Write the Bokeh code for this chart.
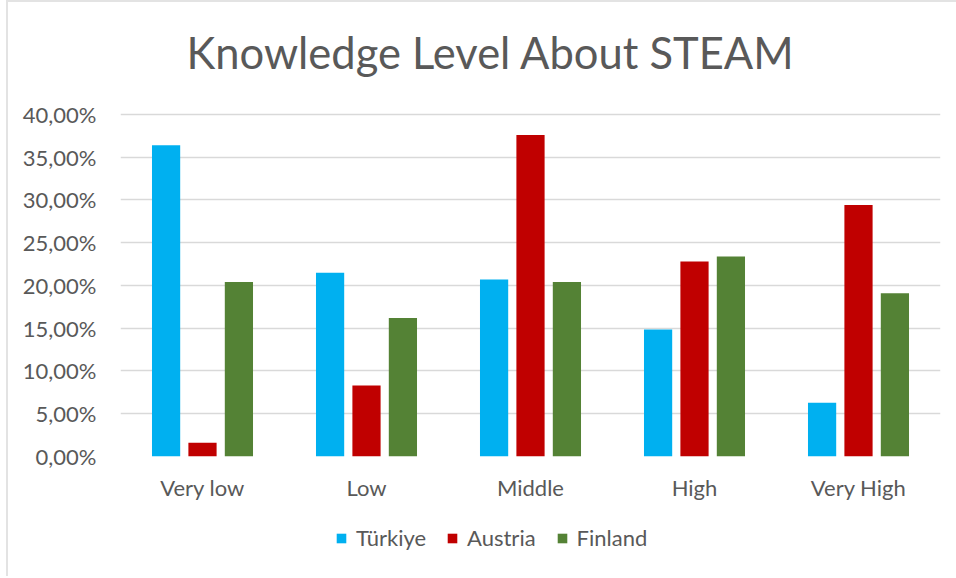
from bokeh.plotting import figure
from bokeh.layouts import column
from bokeh.models import ColumnDataSource, FactorRange, CustomJSTickFormatter, Legend, LegendItem, FixedTicker, Range1d
from bokeh.transform import dodge
from bokeh.embed import file_html
from bokeh.resources import INLINE

categories = ["Very low", "Low", "Middle", "High", "Very High"]
turkiye = [36.4, 21.5, 20.7, 14.85, 6.3]
austria = [1.6, 8.3, 37.6, 22.8, 29.4]
finland = [20.4, 16.2, 20.4, 23.4, 19.1]
series_names = ["Türkiye", "Austria", "Finland"]
colors = ["#00B0F0", "#C00000", "#548235"]
y_ticks = [0, 5, 10, 15, 20, 25, 30, 35, 40]

source = ColumnDataSource(data=dict(cat=categories, t=turkiye, a=austria, f=finland))

FONT = "Lato"
TXT = "#595959"

p = figure(x_range=FactorRange(*categories), y_range=Range1d(0, 41.87),
           width=948, height=518, output_backend="svg", toolbar_location=None,
           min_border_left=112, min_border_right=16, min_border_top=0, min_border_bottom=64)

p.title.text = "Knowledge Level About STEAM"
p.title.align = "left"
p.title.offset = 66
p.title.text_font = FONT
p.title.text_font_style = "normal"
p.title.text_font_size = "43.5px"
p.title.text_color = TXT
p.title.standoff = 42

for key, off, col in zip(["t", "a", "f"], [-0.222, 0.0, 0.222], colors):
    p.vbar(x=dodge("cat", off, range=p.x_range), top=key, width=0.172, bottom=0,
           source=source, fill_color=col, line_color=None)

p.xgrid.grid_line_color = None
p.ygrid.grid_line_color = "#D9D9D9"
p.ygrid.grid_line_width = 1.5
p.outline_line_color = None

p.yaxis.ticker = FixedTicker(ticks=y_ticks)
p.yaxis.formatter = CustomJSTickFormatter(code="return tick.toFixed(2).replace('.', ',') + '%';")
for ax in (p.xaxis[0], p.yaxis[0]):
    ax.axis_line_color = None
    ax.major_tick_line_color = None
    ax.minor_tick_line_color = None
    ax.major_tick_out = 0
    ax.major_tick_in = 0
    ax.major_label_text_font = FONT
    ax.major_label_text_font_size = "22px"
    ax.major_label_text_color = TXT
p.yaxis.major_label_standoff = 24
p.xaxis.major_label_standoff = 17

# legend strip below the chart
q = figure(width=948, height=56, x_range=(0, 1), y_range=(0, 1),
           output_backend="svg", toolbar_location=None,
           min_border_left=0, min_border_right=0, min_border_top=0, min_border_bottom=0)
q.axis.visible = False
q.grid.visible = False
q.outline_line_color = None
swatches = [q.vbar(x=[-5], top=[0], width=0.01, fill_color=c, line_color=None) for c in colors]
legend = Legend(items=[LegendItem(label=n, renderers=[r]) for n, r in zip(series_names, swatches)],
                orientation="horizontal", location=(215, 25),
                label_text_font=FONT, label_text_font_size="22px", label_text_color=TXT,
                glyph_width=12, glyph_height=12, spacing=20, label_standoff=9,
                border_line_color=None, background_fill_alpha=0, padding=0, margin=0)
q.add_layout(legend, "center")

layout = column(p, q, styles={"margin-left": "6px", "border-left": "2px solid #E3E3E3",
                              "border-top": "2px solid #E3E3E3"})
open("out.html", "w").write(file_html(layout, INLINE))
